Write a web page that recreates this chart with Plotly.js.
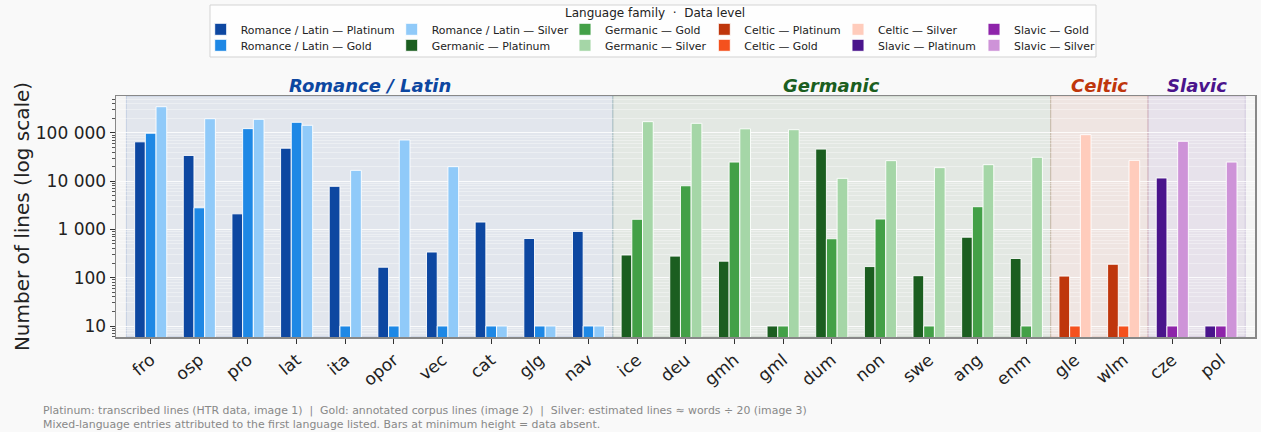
<!DOCTYPE html>
<html><head><meta charset="utf-8">
<script src="https://cdn.plot.ly/plotly-3.0.1.min.js"></script>
<style>html,body{margin:0;padding:0;background:#f9f9f9}</style>
</head><body><div id="chart" style="width:1261px;height:432px"></div>
<script>
// ---------------- data ----------------
const languages = ['fro','osp','pro','lat','ita','opor','vec','cat','glg','nav',
  'ice','deu','gmh','gml','dum','non','swe','ang','enm','gle','wlm','cze','pol'];
const familyOf = ['Romance / Latin','Romance / Latin','Romance / Latin','Romance / Latin','Romance / Latin',
  'Romance / Latin','Romance / Latin','Romance / Latin','Romance / Latin','Romance / Latin',
  'Germanic','Germanic','Germanic','Germanic','Germanic','Germanic','Germanic','Germanic','Germanic',
  'Celtic','Celtic','Slavic','Slavic'];
const families = ['Romance / Latin','Germanic','Celtic','Slavic'];
const levels = ['Platinum','Gold','Silver'];
const platinum = [65000, 34000, 2100, 48000, 7800, 165, 340, 1420, 650, 910,
  295, 280, 220, 10, 46000, 170, 110, 690, 250, 108, 190, 11600, 10];
const gold = [98000, 2800, 122000, 165000, 10, 10, 10, 10, 10, 10,
  1620, 8000, 24800, 10, 640, 1640, 10, 2950, 10, 10, 10, 10, 10];
const silver = [347000, 196000, 190000, 143000, 16700, 71000, 19900, 10, 10, 10,
  170000, 157000, 121000, 116000, 11400, 26500, 19000, 21900, 31100, 91400, 26900, 66700, 24800];
const yTickVals = [10, 100, 1000, 10000, 100000];
const yTickText = ['10', '100', '1 000', '10 000', '100 000'];
const legendTitle = 'Language family  ·  Data level';
const footnote1 = 'Platinum: transcribed lines (HTR data, image 1)  |  Gold: annotated corpus lines (image 2)  |  Silver: estimated lines ≈ words ÷ 20 (image 3)';
const footnote2 = 'Mixed-language entries attributed to the first language listed. Bars at minimum height = data absent.';

// ---------------- styles ----------------
const familyColor = {
  'Romance / Latin': {main:'#0d47a1', rgb:'13,71,161', shades:['#0d47a1','#1e88e5','#90caf9']},
  'Germanic': {main:'#1b5e20', rgb:'27,94,32', shades:['#1b5e20','#43a047','#a5d6a7']},
  'Celtic': {main:'#bf360c', rgb:'191,54,12', shades:['#bf360c','#f4511e','#ffccbc']},
  'Slavic': {main:'#4a148c', rgb:'74,20,140', shades:['#4a148c','#8e24aa','#ce93d8']}
};
const FONT = 'DejaVu Sans, Verdana, sans-serif';
const W = 1261, H = 432, ML = 116, MR = 6, MT = 96, MB = 95;
const PW = W - ML - MR, PH = H - MT - MB;
const px2x = p => (p - ML) / PW;
const py2y = p => (H - MB - p) / PH;

const levelValues = [platinum, gold, silver];
const barWidth = 0.22;
const legendTextStart = [240.7, 431.7, 605, 744.3, 878, 1014];
const legendRowY = [29.3, 45.3];

const traces = [];
const layoutLegends = {};
families.forEach((fam, fi) => {
  const idx = languages.map((l, i) => i).filter(i => familyOf[i] === fam);
  levels.forEach((lev, li) => {
    const k = fi * 3 + li;
    const legId = k === 0 ? 'legend' : 'legend' + (k + 1);
    traces.push({
      type: 'bar',
      name: fam + ' — ' + lev,
      x: idx.map(i => languages[i]),
      y: idx.map(i => levelValues[li][i]),
      width: barWidth,
      offset: -1.5 * barWidth + li * barWidth,
      marker: {color: familyColor[fam].shades[li], line: {color: 'rgba(255,255,255,0.9)', width: 1}},
      legend: legId,
      hoverinfo: 'skip'
    });
    const col = Math.floor(k / 2), row = k % 2;
    layoutLegends[legId] = {
      x: px2x(legendTextStart[col] - 40), xanchor: 'left', xref: 'paper',
      y: py2y(legendRowY[row]), yanchor: 'middle', yref: 'paper',
      bgcolor: 'rgba(0,0,0,0)', borderwidth: 0,
      font: {family: FONT, size: 10.9, color: '#222'},
      itemclick: false, itemdoubleclick: false
    };
  });
});

const shapes = [];
const annotations = [];
families.forEach(fam => {
  const idx = languages.map((l, i) => i).filter(i => familyOf[i] === fam);
  const a = idx[0] - 0.5, b = idx[idx.length - 1] + 0.5;
  shapes.push({type: 'rect', xref: 'x', yref: 'paper', x0: a, x1: b, y0: 0, y1: 1, layer: 'below',
    fillcolor: 'rgba(' + familyColor[fam].rgb + ',0.075)',
    line: {color: 'rgba(' + familyColor[fam].rgb + ',0.16)', width: 1}});
  annotations.push({xref: 'x', yref: 'paper', x: (a + b) / 2, y: py2y(86), yanchor: 'middle',
    text: '<b><i>' + fam + '</i></b>', showarrow: false,
    font: {family: FONT, size: 18, color: familyColor[fam].main}});
});
// legend frame + title
shapes.push({type: 'rect', xref: 'paper', yref: 'paper', x0: px2x(210), x1: px2x(1096), y0: py2y(57), y1: py2y(5),
  fillcolor: 'rgba(255,255,255,0.85)', line: {color: '#d3d3d3', width: 1}, layer: 'above'});
annotations.push({xref: 'paper', yref: 'paper', x: px2x(655), y: py2y(13), xanchor: 'center', yanchor: 'middle',
  text: legendTitle, showarrow: false, font: {family: FONT, size: 12, color: '#222'}});
annotations.push({xref: 'paper', yref: 'paper', x: px2x(41), y: py2y(410), xanchor: 'left', yanchor: 'middle',
  text: footnote1, showarrow: false, font: {family: FONT, size: 10.9, color: '#888'}});
annotations.push({xref: 'paper', yref: 'paper', x: px2x(41), y: py2y(424), xanchor: 'left', yanchor: 'middle',
  text: footnote2, showarrow: false, font: {family: FONT, size: 10.9, color: '#888'}});

const layout = Object.assign({
  width: W, height: H,
  margin: {l: ML, r: MR, t: MT, b: MB, autoexpand: false},
  paper_bgcolor: '#f9f9f9', plot_bgcolor: '#f4f4f4',
  font: {family: FONT, color: '#222'},
  barmode: 'overlay',
  showlegend: true,
  xaxis: {
    type: 'category', categoryorder: 'array', categoryarray: languages,
    range: [-0.713, 22.70], showgrid: false, zeroline: false,
    ticks: 'outside', ticklen: 5, tickcolor: '#333', tickangle: -40,
    tickfont: {family: FONT, size: 17, color: '#222'},
    showline: true, linecolor: '#888', linewidth: 1.5, mirror: true
  },
  yaxis: {
    type: 'log', range: [0.7723, 5.762],
    tickmode: 'array', tickvals: yTickVals, ticktext: yTickText,
    ticks: 'outside', ticklen: 5, tickcolor: '#333',
    tickfont: {family: FONT, size: 17, color: '#222'},
    showgrid: true, gridcolor: 'rgba(255,255,255,0.75)', gridwidth: 1,
    minor: {dtick: 'D1', ticks: 'outside', ticklen: 3, tickcolor: '#555', showgrid: true, gridcolor: 'rgba(255,255,255,0.45)', gridwidth: 0.8},
    zeroline: false, showline: true, linecolor: '#888', linewidth: 1.5, mirror: true,
    title: {text: 'Number of lines (log scale)', font: {family: FONT, size: 20, color: '#222'}, standoff: 1}
  },
  shapes: shapes,
  annotations: annotations
}, layoutLegends);

Plotly.newPlot('chart', traces, layout, {displayModeBar: false, staticPlot: true});
</script></body></html>
